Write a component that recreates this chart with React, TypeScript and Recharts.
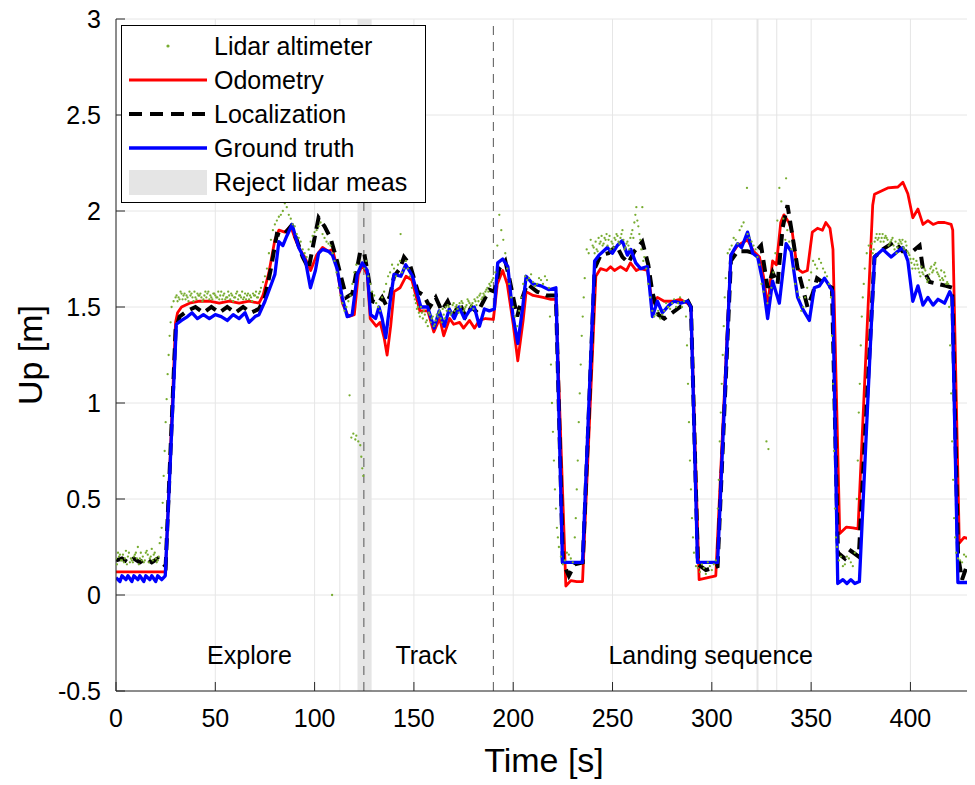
import {
  CartesianGrid,
  ComposedChart,
  Line,
  ReferenceArea,
  ReferenceDot,
  ReferenceLine,
  Scatter,
  XAxis,
  YAxis,
} from "recharts";

const FONT = '"Liberation Sans", Arial, Helvetica, sans-serif';

const xTicks = [0, 50, 100, 150, 200, 250, 300, 350, 400];
const yTicks = [-0.5, 0, 0.5, 1, 1.5, 2, 2.5, 3];

// ground truth
const gtT = [0, 2, 3, 5, 6, 8, 9, 11, 12, 14, 15, 17, 18, 20, 21, 23, 24.8, 30.4, 33, 36, 38.3, 41, 44, 47, 50, 53, 56, 59, 62, 65, 67, 70, 72, 75, 78.6, 80, 82, 84, 86, 88.7, 90, 92, 95.4, 97.9, 100.4, 102, 104, 107, 109, 111.3, 113.9, 116.4, 118.9, 121.5, 124, 126.5, 128.2, 130.7, 132.4, 134, 135.8, 138.3, 140, 143.4, 145.9, 149.3, 153.5, 156.9, 160.2, 162.7, 165.3, 167.8, 170.3, 172.8, 175.4, 177.9, 180.4, 183, 185.5, 188, 190.5, 192.2, 194.7, 197.3, 199.8, 202.3, 204.8, 206.5, 209.9, 214, 218, 221.5, 224.8, 234.9, 241, 243.2, 247.4, 249.9, 252.4, 254.9, 257.5, 259.2, 261.7, 264.2, 267.6, 270.1, 272.6, 275.1, 278.5, 281, 284.4, 287.7, 289.5, 292.8, 302.9, 309.6, 313, 315, 318, 320.6, 323.1, 325.6, 328.1, 330.6, 334, 337.4, 339.9, 343.2, 345.7, 349.1, 351.6, 354.2, 356.7, 359.2, 360.9, 363.4, 366, 368, 370, 372, 374.3, 381.9, 386.1, 390.3, 393.7, 396.2, 398.7, 401.2, 403.8, 406.3, 408.8, 411.4, 413.9, 417.2, 419.8, 421, 423.9, 431];
const gtY = [0.09, 0.07, 0.1, 0.08, 0.1, 0.07, 0.1, 0.08, 0.1, 0.07, 0.1, 0.08, 0.1, 0.07, 0.1, 0.08, 0.1, 1.41, 1.43, 1.45, 1.47, 1.44, 1.46, 1.44, 1.46, 1.45, 1.43, 1.46, 1.44, 1.47, 1.42, 1.45, 1.46, 1.53, 1.63, 1.67, 1.84, 1.82, 1.87, 1.93, 1.88, 1.81, 1.74, 1.6, 1.69, 1.78, 1.8, 1.79, 1.77, 1.7, 1.55, 1.45, 1.46, 1.67, 1.73, 1.69, 1.46, 1.44, 1.5, 1.44, 1.34, 1.55, 1.67, 1.66, 1.72, 1.66, 1.5, 1.5, 1.39, 1.48, 1.4, 1.49, 1.44, 1.5, 1.44, 1.48, 1.5, 1.4, 1.49, 1.48, 1.49, 1.73, 1.75, 1.71, 1.46, 1.31, 1.5, 1.66, 1.62, 1.61, 1.59, 1.6, 0.17, 0.17, 1.74, 1.77, 1.81, 1.78, 1.82, 1.845, 1.77, 1.8, 1.73, 1.7, 1.71, 1.45, 1.53, 1.47, 1.51, 1.53, 1.52, 1.53, 1.5, 0.17, 0.17, 1.77, 1.83, 1.81, 1.89, 1.78, 1.76, 1.635, 1.44, 1.635, 1.52, 1.83, 1.79, 1.55, 1.49, 1.43, 1.6, 1.61, 1.65, 1.61, 1.58, 0.06, 0.08, 0.06, 0.08, 0.06, 0.07, 1.76, 1.8, 1.76, 1.79, 1.81, 1.74, 1.53, 1.61, 1.51, 1.55, 1.51, 1.54, 1.52, 1.58, 1.55, 0.065, 0.065];

// odometry
const odomT = [0, 24.5, 25, 30, 31, 33, 37, 42, 47, 52, 57, 62, 67, 72, 74, 77, 80, 82, 85, 88, 90, 92, 95, 98, 101, 104, 107, 109, 111, 114, 117, 120, 122, 124, 126.5, 128, 131, 133, 135, 136.5, 138.3, 140, 143, 146, 149, 153, 157, 160, 163, 165, 168, 170, 173, 175, 178, 180.5, 183, 186, 190, 192, 194.7, 197, 200, 202.3, 205, 206.5, 210, 215, 219, 221.5, 226.5, 229, 232, 234.9, 241.6, 244, 247, 249, 251, 254, 257, 259, 262, 264, 267.6, 270, 272.6, 276, 280, 284, 287.7, 289.5, 293.6, 298, 302, 309.6, 313, 318, 321, 324, 326, 328.1, 330.6, 332.5, 334.7, 336.3, 338.8, 340.5, 343, 345.6, 348.1, 350.6, 353.2, 355.7, 357.4, 359.5, 361, 364.4, 367.8, 371, 373.6, 381, 381.9, 388.6, 393.7, 396.2, 398.7, 401.2, 403.8, 406.3, 408.8, 411.4, 413.9, 417.2, 420.5, 421.3, 424.6, 427, 430.4];
const odomY = [0.12, 0.12, 0.13, 1.42, 1.47, 1.5, 1.52, 1.53, 1.53, 1.52, 1.53, 1.52, 1.53, 1.52, 1.56, 1.68, 1.85, 1.9, 1.89, 1.92, 1.86, 1.81, 1.76, 1.69, 1.77, 1.81, 1.79, 1.8, 1.72, 1.52, 1.45, 1.46, 1.67, 1.72, 1.67, 1.44, 1.4, 1.42, 1.34, 1.25, 1.4, 1.58, 1.6, 1.66, 1.64, 1.48, 1.48, 1.37, 1.44, 1.35, 1.44, 1.41, 1.42, 1.39, 1.43, 1.39, 1.43, 1.44, 1.435, 1.62, 1.69, 1.62, 1.41, 1.22, 1.43, 1.58, 1.56, 1.55, 1.54, 1.54, 0.047, 0.075, 0.07, 0.07, 1.66, 1.7, 1.69, 1.71, 1.69, 1.71, 1.69, 1.73, 1.69, 1.7, 1.69, 1.52, 1.55, 1.53, 1.53, 1.54, 1.52, 1.5, 0.08, 0.09, 0.1, 1.77, 1.82, 1.85, 1.79, 1.76, 1.66, 1.5, 1.74, 1.72, 1.94, 1.98, 1.94, 1.89, 1.7, 1.68, 1.69, 1.89, 1.91, 1.9, 1.94, 1.91, 1.8, 0.32, 0.354, 0.35, 0.345, 2.03, 2.087, 2.12, 2.125, 2.15, 2.09, 1.965, 2.01, 1.93, 1.95, 1.93, 1.94, 1.94, 1.93, 1.9, 0.27, 0.3, 0.29];

// localization
const locT = [0, 3, 6, 9, 12, 15, 18, 21, 23, 25, 30, 32, 36, 40, 44, 48, 52, 56, 60, 64, 68, 72, 75, 78, 81, 84, 88, 91, 94, 97, 100, 102, 105, 108, 110.5, 113, 116, 119, 121, 123, 125, 127, 129, 132, 134, 136, 138, 140, 143, 145, 148, 152, 155, 158, 161, 164, 167, 170, 173, 176, 179, 182, 185, 188, 190.5, 193, 196, 198, 200, 202, 204, 207, 212, 217, 221.5, 225, 228, 231, 235, 241, 244, 248, 252, 255, 258, 261, 265, 268, 270, 273, 276, 280, 284, 288, 289.5, 293, 297, 302.9, 309.6, 313, 318, 321.4, 324.8, 328.1, 330.6, 333.1, 335.6, 338.1, 340.6, 343.2, 345.7, 348.2, 350.8, 353, 357, 360.5, 363.5, 367, 370, 374, 381.9, 386, 391.9, 396, 401.2, 404.6, 406.3, 409.7, 413.9, 418, 421, 424, 426, 428, 431];
const locY = [0.18, 0.19, 0.17, 0.19, 0.17, 0.19, 0.17, 0.19, 0.17, 0.15, 1.38, 1.45, 1.48, 1.5, 1.47, 1.5, 1.47, 1.5, 1.47, 1.5, 1.47, 1.49, 1.55, 1.7, 1.88, 1.87, 1.92, 1.85, 1.76, 1.7, 1.86, 1.965, 1.92, 1.86, 1.77, 1.67, 1.55, 1.57, 1.68, 1.79, 1.78, 1.66, 1.53, 1.52, 1.55, 1.51, 1.56, 1.66, 1.7, 1.76, 1.72, 1.58, 1.56, 1.5, 1.55, 1.48, 1.53, 1.46, 1.52, 1.45, 1.5, 1.47, 1.53, 1.59, 1.58, 1.7, 1.74, 1.65, 1.55, 1.45, 1.53, 1.62, 1.58, 1.56, 1.56, 0.17, 0.1, 0.16, 0.17, 1.7, 1.77, 1.78, 1.82, 1.76, 1.73, 1.79, 1.84, 1.72, 1.58, 1.46, 1.44, 1.47, 1.5, 1.53, 1.5, 0.16, 0.13, 0.15, 1.74, 1.79, 1.79, 1.78, 1.82, 1.6, 1.68, 1.62, 1.91, 2.03, 1.87, 1.7, 1.6, 1.5, 1.57, 1.65, 1.62, 1.6, 0.22, 0.19, 0.23, 0.2, 1.76, 1.8, 1.84, 1.79, 1.79, 1.82, 1.7, 1.63, 1.62, 1.61, 1.6, 0.2, 0.08, 0.14, 0.16];

// lidar altimeter samples (even seconds plus outliers)
const lidarT = [0, 2, 4, 6, 8, 10, 12, 14, 16, 18, 20, 22, 23, 24, 25, 26, 27, 28, 29, 30, 32, 34, 36, 38, 40, 42, 44, 46, 48, 50, 52, 54, 56, 58, 60, 62, 64, 66, 68, 70, 72, 74, 76, 78, 80, 82, 84, 86, 88, 90, 92, 94, 96, 98, 100, 102, 104, 106, 108, 108.8, 110, 112, 114, 116, 117.6, 118, 118.5, 119.5, 120, 120.5, 121, 122, 123, 123.5, 124, 124.5, 126, 128, 130, 132, 134, 136, 138, 140, 142, 143.3, 144, 146, 148, 150, 152, 154, 156, 158, 160, 162, 164, 166, 168, 170, 172, 174, 176, 178, 180, 182, 184, 186, 188, 190, 191, 192, 193, 194, 196, 198, 200, 202, 204, 206, 208, 210, 212, 214, 216, 218, 219, 220, 221, 222, 224, 226, 228, 230, 231, 232, 233, 234, 235, 236, 237, 238, 240, 242, 244, 246, 248, 250, 252, 254, 256, 258, 260, 262, 264, 265, 266, 268, 270, 272, 274, 276, 278, 280, 282, 284, 286, 287, 288, 289, 290, 292, 294, 296, 298, 300, 302, 303, 304, 305, 306, 307, 308, 310, 312, 314, 316, 317.7, 318, 320, 322, 324, 326, 327.5, 328, 328.5, 330, 332, 333, 334, 335, 336, 337.4, 338, 340, 342, 344, 346, 348, 350, 352, 354, 356, 358, 360, 361, 362, 364, 366, 368, 370, 372, 373, 374, 375, 376, 377, 378, 380, 382, 384, 386, 388, 390, 392, 394, 396, 398, 400, 402, 404, 406, 408, 410, 412, 414, 416, 418, 419, 420, 421, 422, 424, 426, 428, 430];
const lidarY = [0.19, 0.21, 0.17, 0.2, 0.18, 0.22, 0.19, 0.17, 0.21, 0.24, 0.19, 0.27, 0.35, 0.62, 0.9, 1.15, 1.35, 1.5, 1.53, 1.55, 1.54, 1.56, 1.55, 1.57, 1.55, 1.56, 1.54, 1.57, 1.55, 1.56, 1.54, 1.56, 1.55, 1.57, 1.55, 1.56, 1.54, 1.56, 1.55, 1.56, 1.57, 1.63, 1.7, 1.85, 1.93, 1.97, 2.0, 2.02, 1.96, 1.92, 1.86, 1.8, 1.76, 1.84, 1.89, 1.92, 1.88, 1.84, 1.82, 0.0, 1.74, 1.6, 1.52, 1.5, 1.04, 1.56, 0.82, 0.84, 1.68, 0.81, 0.83, 0.8, 0.78, 0.72, 0.66, 0.62, 1.74, 1.62, 1.56, 1.5, 1.55, 1.62, 1.68, 1.7, 1.72, 1.88, 1.68, 1.74, 1.66, 1.56, 1.5, 1.47, 1.42, 1.46, 1.4, 1.45, 1.42, 1.5, 1.48, 1.52, 1.49, 1.53, 1.5, 1.52, 1.49, 1.55, 1.54, 1.58, 1.62, 1.65, 1.68, 1.82, 1.98, 1.9, 1.78, 1.62, 1.5, 1.4, 1.55, 1.66, 1.65, 1.63, 1.62, 1.64, 1.66, 1.6, 1.2, 0.85, 0.55, 0.35, 0.2, 0.18, 0.21, 0.17, 0.3, 0.55, 0.9, 1.2, 1.45, 1.65, 1.8, 1.78, 1.82, 1.8, 1.84, 1.86, 1.85, 1.83, 1.88, 1.86, 1.8, 1.82, 1.9, 2.02, 1.85, 2.02, 1.76, 1.62, 1.48, 1.46, 1.44, 1.48, 1.5, 1.52, 1.5, 1.55, 1.53, 1.45, 1.1, 0.7, 0.4, 0.15, 0.12, 0.14, 0.17, 0.13, 0.18, 0.45, 0.8, 1.1, 1.4, 1.65, 1.78, 1.82, 1.85, 1.9, 1.94, 2.12, 1.88, 1.84, 1.8, 1.72, 1.58, 0.8, 1.52, 0.76, 1.6, 1.78, 1.95, 2.12, 2.05, 1.96, 2.17, 1.9, 1.8, 1.62, 1.55, 1.5, 1.6, 1.68, 1.72, 1.75, 1.7, 1.66, 1.55, 1.1, 0.45, 0.18, 0.15, 0.2, 0.17, 0.22, 0.5, 0.95, 1.3, 1.55, 1.7, 1.78, 1.8, 1.84, 1.86, 1.88, 1.86, 1.84, 1.8, 1.83, 1.85, 1.82, 1.75, 1.72, 1.7, 1.68, 1.65, 1.7, 1.72, 1.67, 1.65, 1.62, 1.62, 1.3, 0.8, 0.4, 0.19, 0.17, 0.2, 0.18];

// lidar altimeter samples (odd seconds and transition trails)
const lidarOddT = [1, 3, 5, 7, 9, 11, 13, 15, 17, 19, 21, 22.5, 23.5, 24.5, 25.5, 26.5, 27.5, 31, 33, 35, 37, 39, 41, 43, 45, 47, 49, 51, 53, 55, 57, 59, 61, 63, 65, 67, 69, 71, 73, 75, 77, 79, 81, 83, 85, 87, 89, 91, 93, 95, 97, 99, 101, 103, 105, 107, 109, 111, 113, 115, 117, 119, 121, 125, 127, 129, 131, 133, 135, 137, 139, 141, 143, 145, 147, 149, 151, 153, 155, 157, 159, 161, 163, 165, 167, 169, 171, 173, 175, 177, 179, 181, 183, 185, 187, 189, 195, 197, 199, 201, 203, 205, 207, 209, 211, 213, 215, 217, 218.5, 219.5, 220.5, 221.5, 222.5, 223, 225, 227, 229, 231.5, 232.5, 233.5, 234.5, 235.5, 239, 241, 243, 245, 247, 249, 251, 253, 255, 257, 259, 261, 263, 267, 269, 271, 273, 275, 277, 279, 281, 283, 285, 287.5, 288.5, 289.5, 290.5, 291, 293, 295, 297, 299, 301, 303.5, 304.5, 305.5, 306.5, 309, 311, 313, 315, 319, 321, 323, 325, 329, 331, 337, 339, 341, 343, 345, 347, 349, 351, 353, 355, 357, 359, 360.5, 361.5, 362.5, 363, 365, 367, 369, 371, 373.5, 374.5, 375.5, 376.5, 379, 381, 383, 385, 387, 389, 391, 393, 395, 397, 399, 401, 403, 405, 407, 409, 411, 413, 415, 417, 419.5, 420.5, 421.5, 422.5, 423, 425, 427, 429];
const lidarOddY = [0.22, 0.18, 0.23, 0.17, 0.2, 0.25, 0.18, 0.22, 0.19, 0.21, 0.18, 0.3, 0.48, 0.75, 1.02, 1.25, 1.42, 1.53, 1.57, 1.54, 1.58, 1.53, 1.57, 1.55, 1.58, 1.54, 1.57, 1.55, 1.58, 1.54, 1.56, 1.53, 1.58, 1.55, 1.57, 1.54, 1.57, 1.55, 1.6, 1.66, 1.78, 1.9, 1.95, 1.98, 2.04, 1.98, 1.93, 1.88, 1.84, 1.78, 1.8, 1.87, 1.9, 1.94, 1.86, 1.83, 1.78, 1.68, 1.56, 1.48, 1.53, 1.62, 1.72, 1.7, 1.66, 1.58, 1.52, 1.48, 1.58, 1.66, 1.72, 1.66, 1.74, 1.7, 1.7, 1.6, 1.52, 1.45, 1.48, 1.4, 1.44, 1.43, 1.48, 1.46, 1.51, 1.47, 1.5, 1.52, 1.48, 1.54, 1.51, 1.53, 1.56, 1.57, 1.6, 1.63, 1.85, 1.7, 1.55, 1.45, 1.48, 1.62, 1.64, 1.67, 1.61, 1.65, 1.62, 1.64, 1.45, 1.0, 0.7, 0.45, 0.3, 0.25, 0.16, 0.22, 0.19, 0.4, 0.7, 1.05, 1.35, 1.55, 1.85, 1.78, 1.86, 1.82, 1.88, 1.8, 1.86, 1.84, 1.9, 1.83, 1.86, 1.94, 1.92, 1.7, 1.55, 1.45, 1.48, 1.46, 1.52, 1.49, 1.54, 1.52, 1.5, 1.3, 0.9, 0.55, 0.3, 0.22, 0.14, 0.16, 0.11, 0.15, 0.16, 0.6, 0.95, 1.25, 1.55, 1.8, 1.86, 1.83, 1.92, 1.86, 1.82, 1.76, 1.62, 1.56, 1.68, 1.85, 1.84, 1.7, 1.58, 1.48, 1.55, 1.64, 1.74, 1.7, 1.73, 1.68, 1.62, 1.35, 0.75, 0.3, 0.25, 0.2, 0.16, 0.19, 0.15, 0.7, 1.1, 1.45, 1.62, 1.82, 1.78, 1.88, 1.84, 1.86, 1.82, 1.86, 1.78, 1.84, 1.8, 1.78, 1.7, 1.74, 1.66, 1.7, 1.64, 1.68, 1.7, 1.64, 1.68, 1.5, 1.05, 0.6, 0.3, 0.22, 0.18, 0.21, 0.17];

// lidar altimeter samples (half seconds on the steady plateaus)
const lidarHalfT = [0.5, 1.5, 2.5, 3.5, 4.5, 5.5, 6.5, 7.5, 8.5, 9.5, 10.5, 11.5, 12.5, 13.5, 14.5, 15.5, 16.5, 17.5, 18.5, 19.5, 20.5, 21.5, 30.5, 31.5, 32.5, 33.5, 34.5, 35.5, 36.5, 37.5, 38.5, 39.5, 40.5, 41.5, 42.5, 43.5, 44.5, 45.5, 46.5, 47.5, 48.5, 49.5, 50.5, 51.5, 52.5, 53.5, 54.5, 55.5, 56.5, 57.5, 58.5, 59.5, 60.5, 61.5, 62.5, 63.5, 64.5, 65.5, 66.5, 67.5, 68.5, 69.5, 70.5, 71.5, 72.5, 150.5, 151.5, 152.5, 153.5, 154.5, 155.5, 156.5, 157.5, 158.5, 159.5, 160.5, 161.5, 162.5, 163.5, 164.5, 165.5, 166.5, 167.5, 168.5, 169.5, 170.5, 171.5, 172.5, 173.5, 174.5, 175.5, 176.5, 177.5, 178.5, 179.5, 180.5, 181.5, 182.5, 183.5, 184.5, 185.5, 186.5, 187.5, 188.5, 189.5, 240.5, 241.5, 242.5, 243.5, 244.5, 245.5, 246.5, 247.5, 248.5, 249.5, 250.5, 251.5, 252.5, 253.5, 254.5, 255.5, 256.5, 257.5, 258.5, 259.5, 260.5, 261.5, 262.5, 263.5, 264.5, 265.5, 380.5, 381.5, 382.5, 383.5, 384.5, 385.5, 386.5, 387.5, 388.5, 389.5, 390.5, 391.5, 392.5, 393.5, 394.5, 395.5, 396.5, 397.5, 398.5, 399.5, 400.5, 401.5, 402.5, 403.5, 404.5, 405.5, 406.5, 407.5, 408.5, 409.5, 410.5, 411.5, 412.5, 413.5, 414.5, 415.5, 416.5, 417.5, 418.5];
const lidarHalfY = [0.16, 0.2, 0.18, 0.21, 0.19, 0.16, 0.22, 0.19, 0.17, 0.21, 0.19, 0.16, 0.22, 0.2, 0.18, 0.23, 0.17, 0.2, 0.18, 0.22, 0.17, 0.2, 1.56, 1.55, 1.58, 1.54, 1.57, 1.56, 1.53, 1.56, 1.55, 1.58, 1.54, 1.56, 1.57, 1.53, 1.56, 1.55, 1.58, 1.56, 1.54, 1.57, 1.55, 1.58, 1.56, 1.54, 1.57, 1.55, 1.58, 1.54, 1.56, 1.55, 1.57, 1.54, 1.56, 1.58, 1.55, 1.54, 1.57, 1.56, 1.53, 1.56, 1.58, 1.55, 1.58, 1.54, 1.49, 1.47, 1.5, 1.44, 1.46, 1.43, 1.47, 1.42, 1.45, 1.41, 1.46, 1.47, 1.44, 1.49, 1.44, 1.48, 1.5, 1.46, 1.51, 1.48, 1.51, 1.47, 1.5, 1.52, 1.49, 1.51, 1.53, 1.5, 1.52, 1.54, 1.51, 1.53, 1.57, 1.55, 1.56, 1.59, 1.58, 1.61, 1.64, 1.81, 1.84, 1.79, 1.83, 1.87, 1.83, 1.85, 1.82, 1.87, 1.84, 1.81, 1.85, 1.87, 1.83, 1.88, 1.85, 1.81, 1.84, 1.8, 1.88, 1.86, 1.98, 1.95, 1.88, 1.8, 1.74, 1.83, 1.8, 1.86, 1.85, 1.88, 1.86, 1.84, 1.87, 1.85, 1.83, 1.85, 1.82, 1.84, 1.81, 1.85, 1.83, 1.81, 1.84, 1.79, 1.77, 1.73, 1.75, 1.7, 1.72, 1.68, 1.71, 1.67, 1.69, 1.63, 1.67, 1.71, 1.69, 1.73, 1.68, 1.66, 1.69, 1.64, 1.66, 1.63];

// annotations
const rejectBands = [[121.6, 128.7], [322.5, 323.5]];
const thinMarks = [112.7, 332.7];
const phaseLines = [124.8, 190];
const phaseNames = ["Explore", "Track", "Landing sequence"];
const phaseT = [67.2, 156.2, 299.4];
const phaseLabelY = -0.358;

const legendItems = ["Lidar altimeter", "Odometry", "Localization", "Ground truth", "Reject lidar meas"];

const zip = (ts: number[], ys: number[]) => ts.map((t, i) => ({ t, y: ys[i] }));
const gtData = zip(gtT, gtY);
const odomData = zip(odomT, odomY);
const locData = zip(locT, locY);
const lidarData = [
  ...zip(lidarT, lidarY),
  ...zip(lidarOddT, lidarOddY),
  ...zip(lidarHalfT, lidarHalfY),
];

function XTick(props: any) {
  const { x, y, payload } = props;
  return (
    <g>
      <line x1={x} x2={x} y1={y} y2={y - 9} stroke="#262626" strokeWidth={1} />
      <text x={x} y={y + 36} textAnchor="middle" fontSize={25} fontFamily={FONT} fill="#000">
        {payload.value}
      </text>
    </g>
  );
}

function YTick(props: any) {
  const { x, y, payload } = props;
  return (
    <g>
      <line x1={x} x2={x + 9} y1={y} y2={y} stroke="#262626" strokeWidth={1} />
      <text x={x - 15} y={y + 9} textAnchor="end" fontSize={25} fontFamily={FONT} fill="#000">
        {payload.value}
      </text>
    </g>
  );
}

function LegendBox() {
  const rowY = (i: number) => 21 + i * 34;
  return (
    <svg width={305} height={178} style={{ position: "absolute", left: 113, top: 17 }}>
      <rect x={0.5} y={0.5} width={304} height={177} fill="#fff" stroke="#000" strokeWidth={1} />
      <circle cx={47} cy={rowY(0)} r={1.6} fill="#77ac30" />
      <line x1={8} x2={86} y1={rowY(1)} y2={rowY(1)} stroke="#ff0000" strokeWidth={2.8} />
      <line x1={8} x2={86} y1={rowY(2)} y2={rowY(2)} stroke="#000" strokeWidth={4} strokeDasharray="13 8" />
      <line x1={8} x2={86} y1={rowY(3)} y2={rowY(3)} stroke="#0000ff" strokeWidth={3.3} />
      <rect x={8} y={rowY(4) - 12} width={78} height={25} fill="#e5e5e5" />
      {legendItems.map((name, i) => (
        <text key={name} x={93} y={rowY(i) + 9} fontSize={25} fontFamily={FONT} fill="#000">
          {name}
        </text>
      ))}
    </svg>
  );
}

export default function App() {
  return (
    <div style={{ position: "relative", width: 967, height: 777, background: "#fff" }}>
      <style>{"svg.recharts-surface { overflow: visible; }"}</style>
      <ComposedChart
        width={967}
        height={777}
        margin={{ top: 11, right: 3, bottom: 0, left: 18 }}
      >
        <CartesianGrid stroke="#e6e6e6" strokeWidth={1} />
        {rejectBands.map(([a, b]) => (
          <ReferenceArea key={a} x1={a} x2={b} fill="#e5e5e5" fillOpacity={1} stroke="none" />
        ))}
        {thinMarks.map((t) => (
          <ReferenceLine key={t} x={t} stroke="#e3e3e3" strokeWidth={1} />
        ))}
        {phaseLines.map((t) => (
          <ReferenceLine key={t} x={t} stroke="#555" strokeWidth={1} strokeDasharray="9 7" />
        ))}
        <XAxis
          type="number"
          dataKey="t"
          domain={[0, 431]}
          ticks={xTicks}
          allowDataOverflow
          height={94}
          tickSize={0}
          tickMargin={0}
          tickLine={false}
          axisLine={{ stroke: "#262626", strokeWidth: 1 }}
          tick={<XTick />}
          label={{
            content: (p: any) => (
              <text
                x={p.viewBox.x + p.viewBox.width / 2}
                y={p.viewBox.y + 81}
                textAnchor="middle"
                fontSize={34}
                fontFamily={FONT}
                fill="#000"
              >
                Time [s]
              </text>
            ),
          }}
        />
        <YAxis
          type="number"
          domain={[-0.5, 3]}
          ticks={yTicks}
          allowDataOverflow
          width={90}
          tickSize={0}
          tickMargin={0}
          tickLine={false}
          axisLine={{ stroke: "#262626", strokeWidth: 1 }}
          tick={<YTick />}
          label={{
            content: (p: any) => {
              const cx = 34;
              const cy = p.viewBox.y + p.viewBox.height / 2;
              return (
                <text
                  x={cx}
                  y={cy}
                  transform={`rotate(-90 ${cx} ${cy})`}
                  textAnchor="middle"
                  fontSize={34}
                  fontFamily={FONT}
                  fill="#000"
                >
                  Up [m]
                </text>
              );
            },
          }}
        />
        <Scatter
          data={lidarData}
          dataKey="y"
          isAnimationActive={false}
          shape={(p: any) => <circle cx={p.cx} cy={p.cy} r={1.15} fill="#77ac30" />}
        />
        <Line
          data={odomData}
          dataKey="y"
          type="linear"
          stroke="#ff0000"
          strokeWidth={2.8}
          strokeLinejoin="round"
          dot={false}
          isAnimationActive={false}
        />
        <Line
          data={locData}
          dataKey="y"
          type="linear"
          stroke="#000"
          strokeWidth={4}
          strokeDasharray="12 7"
          dot={false}
          isAnimationActive={false}
        />
        <Line
          data={gtData}
          dataKey="y"
          type="linear"
          stroke="#0000ff"
          strokeWidth={3.3}
          strokeLinejoin="round"
          dot={false}
          isAnimationActive={false}
        />
        {phaseNames.map((name, i) => (
          <ReferenceDot
            key={name}
            x={phaseT[i]}
            y={phaseLabelY}
            r={0}
            shape={(p: any) => (
              <text x={p.cx} y={p.cy} textAnchor="middle" fontSize={25} fontFamily={FONT} fill="#000">
                {name}
              </text>
            )}
          />
        ))}
      </ComposedChart>
      <LegendBox />
    </div>
  );
}
